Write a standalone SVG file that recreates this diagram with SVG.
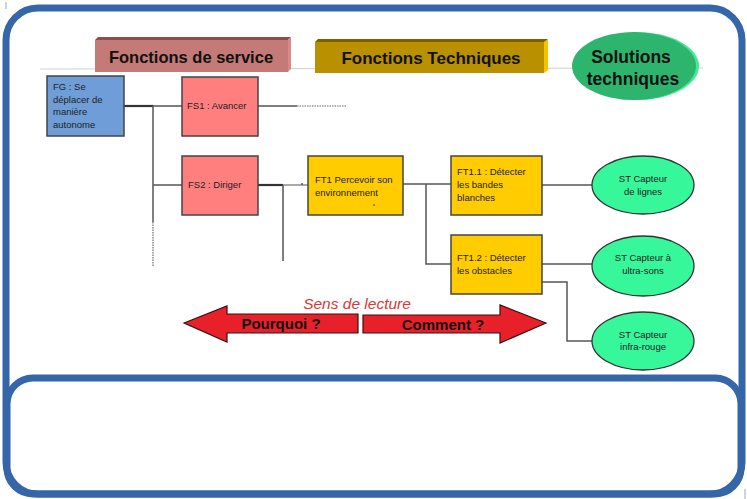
<svg xmlns="http://www.w3.org/2000/svg" width="747" height="499" viewBox="0 0 747 499">
<style>
  .frame{fill:none;stroke:#3566a8;stroke-width:7}
  .box{stroke:#444;stroke-width:1.5}
  .lbl{font-family:"Liberation Sans",Arial,sans-serif;font-size:9.5px;fill:#222}
  .title{font-family:"Liberation Sans",Arial,sans-serif;font-weight:bold;fill:#111}
  .conn{fill:none;stroke:#555;stroke-width:1.5}
  .dark{fill:none;stroke:#333;stroke-width:2.2}
  .ell{fill:#36f79a;stroke:#333;stroke-width:1.3}
  .arrow{fill:#e8202a;stroke:#3a1010;stroke-width:1.2}
</style>
<rect width="747" height="499" fill="#ffffff"/>
<g id="frames">
  <rect class="frame" x="6" y="8" width="736" height="486" rx="32" ry="32"/>
  <rect class="frame" x="7" y="378" width="734" height="116" rx="26" ry="26"/>
  <line x1="6" y1="2" x2="6" y2="9" stroke="#9ab" stroke-width="1"/>
  <line x1="745" y1="489" x2="745" y2="499" stroke="#9ab" stroke-width="1"/>
</g>
<g id="header-line">
  <line x1="40" y1="69" x2="703" y2="68" stroke="#cfcfcf" stroke-width="1"/>
</g>
<g id="title-service">
  <polygon points="95,40 98,37 291,37 288,40" fill="#8e4c4c"/>
  <polygon points="288,40 291,37 291,69 288,72" fill="#d98a86"/>
  <rect x="95" y="40" width="193" height="32" fill="#c47a76"/>
  <text class="title" x="191" y="63" font-size="16.5" text-anchor="middle">Fonctions de service</text>
</g>
<g id="title-techniques">
  <polygon points="315,42 318,39 548,39 545,42" fill="#7a6000"/>
  <polygon points="544,42 548,39 548,70 544,73" fill="#f5c400"/>
  <rect x="315" y="42" width="229" height="31" fill="#b89000"/>
  <text class="title" x="431" y="64" font-size="17" text-anchor="middle">Fonctions Techniques</text>
</g>
<g id="title-solutions">
  <ellipse cx="637" cy="66" rx="62" ry="34" fill="#45e896"/>
  <ellipse cx="634" cy="66" rx="62" ry="34" fill="#2db56e"/>
  <text class="title" x="631" y="63" font-size="17.5" text-anchor="middle">Solutions</text>
  <text class="title" x="633" y="85" font-size="17.5" text-anchor="middle">techniques</text>
</g>
<g id="connectors">
  <polyline class="dark" points="124,106 153,106"/>
  <line class="conn" x1="153" y1="106" x2="182" y2="106"/>
  <line class="conn" x1="153" y1="106" x2="153" y2="222"/>
  <line x1="153" y1="222" x2="153" y2="266" stroke="#888" stroke-width="1.5" stroke-dasharray="1.5,1"/>
  <line class="conn" x1="153" y1="185" x2="182" y2="185"/>
  <line class="conn" x1="258" y1="106" x2="297" y2="106"/>
  <line x1="297" y1="106" x2="347" y2="106" stroke="#999" stroke-width="1.5" stroke-dasharray="1.5,1"/>
  <polyline class="dark" points="258,185 283,185"/>
  <line class="conn" x1="283" y1="185" x2="283" y2="261"/>
  <line x1="283" y1="185" x2="308" y2="185" stroke="#555" stroke-width="1"/>
  <circle cx="302" cy="184" r="1" fill="#3344cc"/>
  <line class="conn" x1="403" y1="184" x2="451" y2="184"/>
  <polyline class="conn" points="426,184 426,264 451,264"/>
  <line class="conn" x1="542" y1="185" x2="592" y2="185"/>
  <line class="conn" x1="542" y1="264" x2="592" y2="264"/>
  <polyline class="conn" points="542,282 567,282 567,341 592,341"/>
</g>
<g id="FG">
  <rect class="box" x="47" y="76" width="77" height="60" fill="#6f9dd8"/>
  <text class="lbl" x="53" y="90">FG : Se</text>
  <text class="lbl" x="53" y="102.5">déplacer de</text>
  <text class="lbl" x="53" y="115">manière</text>
  <text class="lbl" x="53" y="127.5">autonome</text>
</g>
<g id="FS1">
  <rect class="box" x="182" y="77" width="76" height="59" fill="#ff7f7f"/>
  <text class="lbl" x="187" y="109">FS1 : Avancer</text>
</g>
<g id="FS2">
  <rect class="box" x="182" y="156" width="76" height="59" fill="#ff7f7f"/>
  <text class="lbl" x="188" y="188">FS2 : Diriger</text>
</g>
<g id="FT1">
  <rect class="box" x="308" y="156" width="95" height="59" fill="#ffcc00"/>
  <text class="lbl" x="315" y="183">FT1 Percevoir son</text>
  <text class="lbl" x="315" y="196">environnement</text>
  <circle cx="374" cy="205" r="0.8" fill="#333"/>
</g>
<g id="FT1-1">
  <rect class="box" x="451" y="156" width="91" height="59" fill="#ffcc00"/>
  <text class="lbl" x="457" y="175">FT1.1 : Détecter</text>
  <text class="lbl" x="457" y="188">les bandes</text>
  <text class="lbl" x="457" y="201">blanches</text>
</g>
<g id="FT1-2">
  <rect class="box" x="451" y="235" width="91" height="59" fill="#ffcc00"/>
  <text class="lbl" x="457" y="261">FT1.2 : Détecter</text>
  <text class="lbl" x="457" y="274">les obstacles</text>
</g>
<g id="ST-lignes">
  <ellipse class="ell" cx="643" cy="185" rx="51" ry="29"/>
  <text class="lbl" x="643" y="182" text-anchor="middle">ST Capteur</text>
  <text class="lbl" x="643" y="195" text-anchor="middle">de lignes</text>
</g>
<g id="ST-ultrasons">
  <ellipse class="ell" cx="643" cy="266" rx="51" ry="30"/>
  <text class="lbl" x="643" y="261" text-anchor="middle">ST Capteur à</text>
  <text class="lbl" x="643" y="274" text-anchor="middle">ultra-sons</text>
</g>
<g id="ST-infrarouge">
  <ellipse class="ell" cx="643" cy="341" rx="51" ry="29"/>
  <text class="lbl" x="643" y="338" text-anchor="middle">ST Capteur</text>
  <text class="lbl" x="643" y="350" text-anchor="middle">infra-rouge</text>
</g>
<g id="sens-lecture">
  <text x="357" y="309" font-family="'Liberation Sans',Arial,sans-serif" font-style="italic" font-size="15.5" fill="#e03535" text-anchor="middle">Sens de lecture</text>
  <polygon class="arrow" points="184,323 227,306 227,314 358,314 358,333 227,333 227,342"/>
  <polygon class="arrow" points="546,323 500,305 500,315 363,315 363,333 500,333 500,343"/>
  <text class="title" x="281" y="329" font-size="15" text-anchor="middle">Pourquoi ?</text>
  <text class="title" x="443" y="330" font-size="15" text-anchor="middle">Comment ?</text>
</g>
</svg>
